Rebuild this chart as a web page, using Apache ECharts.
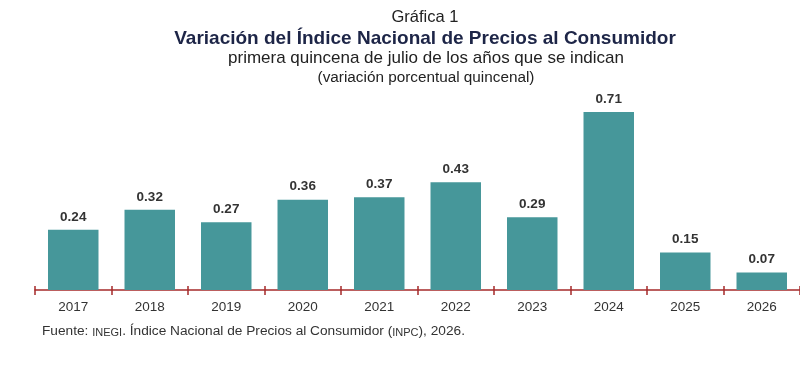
<!DOCTYPE html>
<html><head><meta charset="utf-8">
<script src="https://cdn.jsdelivr.net/npm/echarts@6/dist/echarts.min.js"></script>
<style>html,body{margin:0;padding:0;background:#fff}#c{width:800px;height:388px}</style>
</head><body><div id="c"></div>
<script>
const years = ['2017','2018','2019','2020','2021','2022','2023','2024','2025','2026'];
const values = [0.24,0.32,0.27,0.36,0.37,0.43,0.29,0.71,0.15,0.07];
const chart = echarts.init(document.getElementById('c'));
const F = 'Liberation Sans, Arial, sans-serif';
chart.setOption({
  backgroundColor:'#fff',
  animation:false,
  title:[
    {text:'Gráfica 1', left:420, top:4, textAlign:'center', textStyle:{fontFamily:F,fontSize:16.5,fontWeight:'normal',color:'#222'}},
    {text:'Variación del Índice Nacional de Precios al Consumidor', left:420, top:24, textAlign:'center', textStyle:{fontFamily:F,fontSize:19,fontWeight:'bold',color:'#1d2547'}},
    {text:'primera quincena de julio de los años que se indican', left:421, top:45, textAlign:'center', textStyle:{fontFamily:F,fontSize:17,fontWeight:'normal',color:'#222'}},
    {text:'(variación porcentual quincenal)', left:421, top:65, textAlign:'center', textStyle:{fontFamily:F,fontSize:15.3,fontWeight:'normal',color:'#222'}}
  ],
  graphic:[{type:'text', left:42, top:324, style:{
    text:'{a|Fuente: }{s|INEGI}{a|. Índice Nacional de Precios al Consumidor (}{s|INPC}{a|), 2026.}',
    rich:{a:{fontFamily:F,fontSize:13.7,fill:'#333',lineHeight:16,verticalAlign:'bottom'},
          s:{fontFamily:F,fontSize:11,fill:'#333',lineHeight:13,verticalAlign:'bottom'}}
  }}],
  grid:{left:35, right:-4, top:89.5, bottom:98},
  xAxis:[
    {type:'category', data:years, axisLine:{lineStyle:{color:'#a52a2a',width:1.5}},
     axisTick:{show:true,length:5,lineStyle:{color:'#a52a2a',width:1.5}},
     axisLabel:{fontFamily:F,fontSize:13.5,color:'#333',margin:10}},
    {type:'category', data:years, position:'bottom', axisLine:{show:false},
     axisTick:{show:true,inside:true,length:4,lineStyle:{color:'#a52a2a',width:1.5}},
     axisLabel:{show:false}}
  ],
  yAxis:{type:'value', min:0, max:0.8, show:false, splitLine:{show:false}},
  series:[{type:'bar', data:values, barWidth:'66%', itemStyle:{color:'#46979a'},
    label:{show:true, position:'top', distance:6, fontFamily:F, fontSize:13.5, fontWeight:'bold', color:'#333', formatter:p=>p.value.toFixed(2)}}]
});
</script></body></html>
